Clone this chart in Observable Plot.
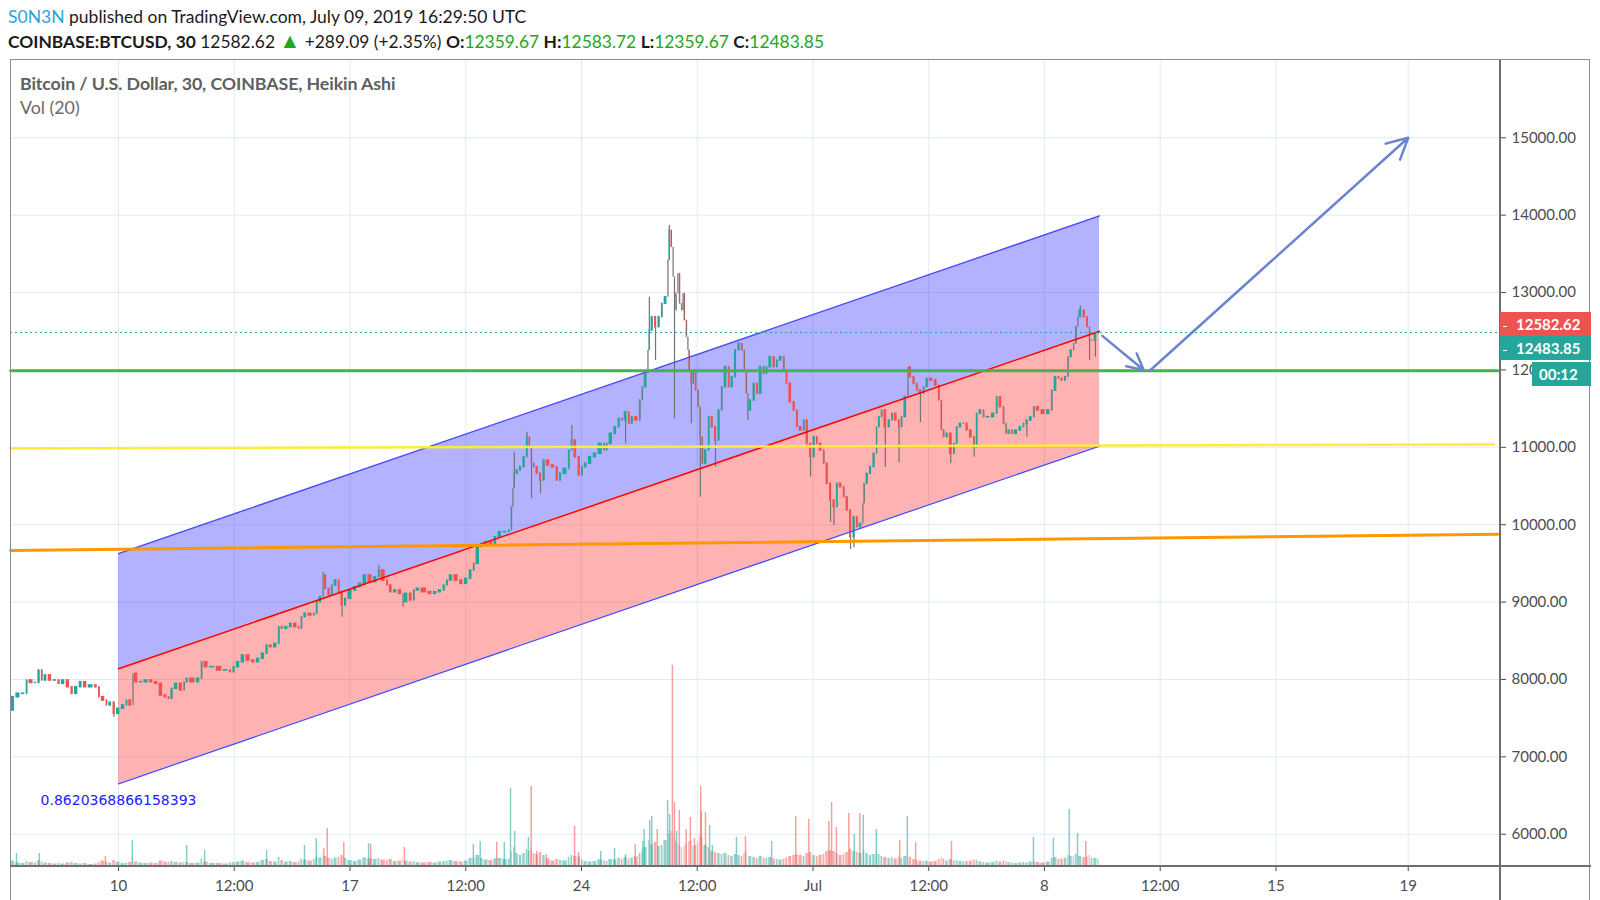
<!DOCTYPE html>
<html>
<head>
<meta charset="utf-8">
<script src="https://cdn.jsdelivr.net/npm/d3@7"></script>
<script src="https://cdn.jsdelivr.net/npm/@observablehq/plot@0.6"></script>
<style>
  html, body { margin: 0; padding: 0; background: #fff; }
  #wrap { position: relative; width: 1600px; height: 900px; overflow: hidden; font-family: Lato, "Liberation Sans", sans-serif; }
  .hdr { position: absolute; left: 8px; white-space: nowrap; font-size: 17.5px; line-height: 20px; color: #1b1b1b; }
  .g { color: #22a722; }
  .b { font-weight: 700; }
  .lbl { position: absolute; color: #fff; font-weight: 700; font-size: 15px; line-height: 24px; height: 24px; white-space: nowrap; }
  .lbl .dash { display: inline-block; width: 4px; height: 1.5px; background: #fff; vertical-align: middle; margin: 0 9px 0 3px; }
</style>
</head>
<body>
<div id="wrap">
  <div class="hdr" style="top:7px"><span style="color:#2f9fdb">S0N3N</span> published on TradingView.com, July 09, 2019 16:29:50 UTC</div>
  <div class="hdr" style="top:31px;font-size:17.4px"><span class="b">COINBASE:BTCUSD, 30</span> 12582.62 <span class="g" style="font-size:21px;line-height:18px">▲</span> +289.09 (+2.35%) <span class="b">O:</span><span class="g">12359.67</span> <span class="b">H:</span><span class="g">12583.72</span> <span class="b">L:</span><span class="g">12359.67</span> <span class="b">C:</span><span class="g">12483.85</span></div>
  <div id="chart" style="position:absolute;left:0;top:60px"></div>
  <div id="vol" style="position:absolute;left:0;top:60px;pointer-events:none"></div>
  <div style="position:absolute;left:10px;top:59px;width:1580px;height:845px;border:1.5px solid #8e8e8e;box-sizing:border-box;border-bottom:none"></div>
  <div style="position:absolute;left:1499px;top:60px;width:2px;height:840px;background:#6f6f6f"></div>
  <div style="position:absolute;left:10px;top:865px;width:1581px;height:2px;background:#6f6f6f"></div>
  <div style="position:absolute;left:20px;top:72px;font-size:17.8px;font-weight:700;color:#5f5f5f;white-space:nowrap;letter-spacing:-0.1px">Bitcoin / U.S. Dollar, 30, COINBASE, Heikin Ashi</div>
  <div style="position:absolute;left:20px;top:96px;font-size:17.8px;color:#6a6a6a;white-space:nowrap">Vol (20)</div>
  <div id="labels"></div>
</div>
<script>
// ---------------- DATA ----------------
// Heikin Ashi 30m closes (sampled), [time (2019, UTC), close, volume]
const candles = [
["06-06 17:45",7599,90],["06-06 21:00",7771,110],["06-07 01:00",7815,70],["06-07 04:30",7815,60],
["06-07 06:30",7987,100],["06-07 10:30",7955,80],["06-07 13:00",7955,70],["06-07 15:30",8116,120],
["06-07 17:30",7987,90],["06-07 20:30",8052,70],["06-08 00:00",7987,60],["06-08 03:30",7987,50],
["06-08 06:00",7944,60],["06-08 09:30",7987,50],["06-08 13:00",7900,70],["06-08 15:30",7815,80],
["06-08 19:00",7900,60],["06-08 22:00",7965,50],["06-09 01:30",7900,60],["06-09 06:00",7922,40],
["06-09 09:00",7900,50],["06-09 11:00",7771,80],["06-09 14:30",7728,110],["06-09 16:30",7664,90],
["06-09 19:30",7700,70],["06-09 22:00",7556,120],["06-10 01:30",7621,90],["06-10 05:00",7664,60],
["06-10 07:00",7728,70],["06-10 10:00",7664,80],["06-10 11:00",8073,160],["06-10 14:30",7965,90],
["06-10 18:00",7965,70],["06-10 22:00",7987,60],["06-11 01:30",7965,70],["06-11 05:00",7944,60],
["06-11 08:30",7793,110],["06-11 11:30",7770,90],["06-11 13:30",7749,80],["06-11 16:00",7879,100],
["06-11 19:30",7944,80],["06-11 23:00",7858,70],["06-12 00:30",7965,90],["06-12 03:00",8009,80],
["06-12 08:00",7965,60],["06-12 11:30",8009,70],["06-12 13:30",8223,150],["06-12 17:30",8159,90],
["06-12 22:30",8159,60],["06-13 03:30",8116,60],["06-13 08:00",8116,50],["06-13 10:30",8094,70],
["06-13 13:00",8159,80],["06-13 16:30",8223,90],["06-13 20:00",8310,110],["06-14 00:00",8245,80],
["06-14 03:30",8223,70],["06-14 07:00",8267,80],["06-14 10:30",8332,120],["06-14 13:00",8439,140],
["06-14 16:00",8418,100],["06-14 19:30",8461,90],["06-14 21:30",8676,180],["06-15 00:00",8655,120],
["06-15 03:30",8676,90],["06-15 06:30",8719,100],["06-15 10:00",8676,80],["06-15 12:00",8655,90],
["06-15 14:00",8805,150],["06-15 17:00",8849,130],["06-15 21:00",8827,110],["06-15 23:00",8849,140],
["06-16 01:00",9000,180],["06-16 04:00",9063,170],["06-16 05:00",9344,240],["06-16 07:30",9172,200],
["06-16 10:00",9085,160],["06-16 12:00",9214,150],["06-16 15:00",9279,170],["06-16 17:00",9128,180],
["06-16 19:30",8956,220],["06-16 22:00",9042,160],["06-17 02:00",9150,120],["06-17 05:30",9193,100],
["06-17 09:00",9236,130],["06-17 12:30",9344,170],["06-17 16:30",9258,150],["06-17 20:00",9322,140],
["06-17 22:00",9408,160],["06-18 02:00",9279,130],["06-18 04:00",9214,120],["06-18 07:00",9128,140],
["06-18 10:30",9150,100],["06-18 14:00",9107,110],["06-18 15:00",9000,170],["06-18 18:30",9107,110],
["06-18 21:30",9021,90],["06-18 23:30",9150,100],["06-19 03:00",9172,80],["06-19 08:00",9128,70],
["06-19 12:00",9107,80],["06-19 15:30",9128,70],["06-19 19:00",9150,90],["06-19 21:30",9214,100],
["06-19 23:30",9279,110],["06-20 03:00",9344,120],["06-20 07:00",9279,100],["06-20 10:30",9236,90],
["06-20 14:00",9300,110],["06-20 17:00",9408,160],["06-20 19:00",9494,170],["06-20 22:30",9710,220],
["06-21 01:00",9753,160],["06-21 04:30",9775,130],["06-21 08:00",9753,120],["06-21 11:00",9840,150],
["06-21 14:30",9904,160],["06-21 18:30",9904,140],["06-21 20:30",9925,150],["06-21 22:00",10227,300],
["06-21 22:30",10464,360],["06-22 00:00",10658,380],["06-22 02:30",10701,260],["06-22 05:00",10744,220],
["06-22 07:30",10873,260],["06-22 09:30",11131,340],["06-22 11:00",11000,300],["06-22 12:30",10787,360],
["06-22 14:30",10744,260],["06-22 17:00",10658,240],["06-22 19:30",10572,280],["06-22 22:00",10830,220],
["06-23 01:30",10765,150],["06-23 05:00",10743,110],["06-23 07:30",10571,140],["06-23 10:00",10658,120],
["06-23 14:00",10722,110],["06-23 16:00",10959,180],["06-23 18:00",11088,220],["06-23 21:00",10873,200],
["06-23 23:30",10636,190],["06-24 01:30",10743,140],["06-24 04:30",10787,100],["06-24 08:00",10873,90],
["06-24 11:30",10916,100],["06-24 15:30",11045,130],["06-24 17:30",10959,110],["06-24 19:30",11045,100],
["06-24 23:00",11175,140],["06-25 02:00",11260,130],["06-25 04:30",11369,160],["06-25 06:30",11347,140],
["06-25 09:30",11454,180],["06-25 11:30",11304,150],["06-25 14:00",11390,170],["06-25 17:30",11347,190],
["06-25 19:30",11605,260],["06-25 21:00",11777,320],["06-26 00:00",11950,380],["06-26 00:30",12252,460],
["06-26 02:00",12510,520],["06-26 04:30",12682,440],["06-26 07:00",12553,480],["06-26 09:30",12682,400],
["06-26 11:30",12855,420],["06-26 14:30",12940,520],["06-26 15:00",13415,600],["06-26 16:30",13802,640],
["06-26 18:00",13586,700],["06-26 19:00",13199,620],["06-26 20:00",12768,660],["06-26 21:30",12984,500],
["06-26 22:30",13242,460],["06-27 00:00",12855,420],["06-27 01:30",12768,380],["06-27 02:00",12984,360],
["06-27 03:30",12639,400],["06-27 05:00",12424,440],["06-27 05:30",12252,460],["06-27 07:00",11993,500],
["06-27 08:30",11821,520],["06-27 10:00",11993,400],["06-27 12:00",11734,420],["06-27 13:30",11519,480],
["06-27 15:00",11131,600],["06-27 16:30",10787,560],["06-27 19:30",10959,420],["06-27 21:30",11390,380],
["06-28 00:00",11260,300],["06-28 02:30",11088,280],["06-28 05:00",11476,260],["06-28 07:00",11777,240],
["06-28 10:00",12036,260],["06-28 12:00",11777,220],["06-28 14:30",11907,200],["06-28 17:00",12252,240],
["06-28 19:30",12338,220],["06-28 21:30",12252,200],["06-28 23:00",11993,260],["06-29 00:30",11692,300],
["06-29 01:00",11476,280],["06-29 04:00",11605,200],["06-29 06:30",11821,180],["06-29 08:30",11692,160],
["06-29 11:30",12036,200],["06-29 13:30",11950,170],["06-29 15:30",12036,160],["06-29 18:30",12165,180],
["06-29 21:00",12036,150],["06-29 23:00",12122,140],["06-30 02:00",12165,130],["06-30 04:00",11993,150],
["06-30 06:00",11821,170],["06-30 09:00",11583,200],["06-30 11:30",11476,220],["06-30 13:30",11260,240],
["06-30 16:30",11217,220],["06-30 18:30",11346,200],["06-30 21:00",11045,260],["06-30 23:30",10873,280],
["07-01 02:00",11131,220],["07-01 04:00",11045,200],["07-01 07:00",10959,220],["07-01 09:00",10787,240],
["07-01 11:30",10528,300],["07-01 14:00",10313,320],["07-01 16:30",10227,300],["07-01 18:30",10528,260],
["07-01 21:30",10485,220],["07-01 23:30",10356,240],["07-02 02:00",10183,280],["07-02 04:30",9840,340],
["07-02 07:00",10097,300],["07-02 09:00",9968,280],["07-02 12:00",10011,260],["07-02 12:30",10270,300],
["07-02 14:00",10528,320],["07-02 16:30",10658,260],["07-02 19:00",10744,220],["07-02 21:30",10916,240],
["07-02 23:00",11260,280],["07-03 01:00",11390,240],["07-03 03:00",11476,200],["07-03 06:00",11260,180],
["07-03 08:30",11347,160],["07-03 10:30",11433,170],["07-03 13:30",11347,150],["07-03 15:30",11260,180],
["07-03 17:30",11390,160],["07-03 20:30",11648,200],["07-03 21:30",12036,240],["07-04 00:00",11907,180],
["07-04 02:30",11821,140],["07-04 04:30",11734,120],["07-04 07:30",11692,110],["07-04 09:30",11777,100],
["07-04 12:00",11886,110],["07-04 15:30",11864,90],["07-04 18:30",11799,100],["07-04 20:30",11605,140],
["07-04 22:00",11217,180],["07-05 00:00",11131,150],["07-05 02:30",11175,110],["07-05 05:30",10916,140],
["07-05 07:30",11045,110],["07-05 09:30",11260,120],["07-05 12:30",11304,100],["07-05 14:30",11304,90],
["07-05 17:00",11217,100],["07-05 20:00",11131,110],["07-05 22:00",11002,130],["07-06 00:00",11433,120],
["07-06 03:00",11476,90],["07-06 05:00",11390,80],["07-06 09:00",11390,70],["07-06 12:30",11433,80],
["07-06 14:30",11648,110],["07-06 17:30",11519,90],["07-06 19:30",11304,110],["07-06 21:00",11175,100],
["07-06 23:30",11217,80],["07-07 01:30",11175,70],["07-07 05:00",11217,60],["07-07 08:00",11260,70],
["07-07 10:00",11304,80],["07-07 12:30",11346,70],["07-07 15:30",11390,90],["07-07 17:30",11519,100],
["07-07 21:00",11476,80],["07-08 01:00",11433,70],["07-08 04:30",11476,90],["07-08 06:30",11734,160],
["07-08 09:30",11907,180],["07-08 11:30",11886,140],["07-08 14:00",11864,150],["07-08 16:30",11907,170],
["07-08 18:00",12165,220],["07-08 20:30",12252,200],["07-08 22:00",12338,190],["07-09 00:00",12553,240],
["07-09 00:30",12682,220],["07-09 03:30",12768,200],["07-09 06:00",12682,180],["07-09 08:00",12553,190],
["07-09 09:30",12381,220],["07-09 11:30",12381,170],["07-09 14:30",12467,160],["07-09 16:00",12483.85,140]
];
// long wicks: [time, low]  and [time, high]
const wickLows = [
["06-09 22:00",7513],["06-16 19:30",8805],["06-18 15:00",8935],["06-22 12:30",10335],["06-22 19:30",10399],
["06-25 09:30",11045],["06-26 07:00",12122],["06-26 20:00",11369],["06-27 08:30",11304],["06-27 15:00",10355],
["06-28 02:30",10743],["06-29 01:00",11347],["06-30 23:30",10614],["07-01 14:00",10030],["07-01 16:30",9990],
["07-02 04:30",9680],["07-02 07:00",9700],["07-03 06:00",10740],["07-03 15:30",10800],["07-04 07:30",11320],
["07-05 05:30",10787],["07-05 22:00",10873],["07-07 12:30",11130],["07-09 09:30",12122],["07-09 14:30",12165]
];
const wickHighs = [
["06-16 05:00",9387],["06-17 22:00",9473],["06-22 00:00",10938],["06-22 09:30",11196],["06-23 18:00",11282],
["06-26 02:00",12940],["06-26 16:30",13867],["07-09 03:30",12833]
];
// volume spikes: [time, volume, direction]
const volumeSpikes = [
["06-06 22:00",260,"u"],["06-07 14:30",260,"u"],["06-09 14:30",200,"d"],["06-10 10:00",520,"u"],
["06-12 01:30",420,"u"],["06-12 14:30",320,"u"],["06-14 11:30",320,"u"],["06-15 15:00",420,"u"],
["06-15 23:30",560,"u"],["06-16 05:00",360,"d"],["06-16 07:30",760,"d"],["06-16 19:30",480,"d"],
["06-17 13:30",460,"u"],["06-17 15:00",440,"d"],["06-18 15:30",380,"d"],["06-20 17:30",440,"u"],
["06-20 22:30",500,"u"],["06-21 10:30",480,"d"],["06-21 16:00",480,"u"],["06-21 20:30",1560,"u"],
["06-21 23:30",700,"u"],["06-22 09:30",580,"u"],["06-22 11:30",1600,"d"],["06-22 15:30",300,"d"],
["06-22 22:30",240,"d"],["06-23 19:00",800,"d"],["06-23 22:00",280,"d"],["06-24 14:00",300,"u"],
["06-25 00:00",360,"u"],["06-25 08:00",240,"u"],["06-25 15:00",440,"d"],["06-25 20:30",500,"u"],
["06-25 21:30",740,"u"],["06-26 01:30",920,"u"],["06-26 03:00",1000,"u"],["06-26 07:00",740,"d"],
["06-26 14:30",1320,"u"],["06-26 16:00",1040,"u"],["06-26 18:00",4020,"d"],["06-26 19:30",1280,"d"],
["06-26 21:00",700,"u"],["06-26 23:00",1120,"d"],["06-27 04:00",740,"d"],["06-27 07:00",980,"d"],
["06-27 10:00",560,"d"],["06-27 14:30",1600,"d"],["06-27 15:00",1100,"d"],["06-27 18:00",1080,"d"],
["06-27 21:00",820,"u"],["06-27 23:00",420,"u"],["06-28 16:30",580,"u"],["06-28 23:00",600,"d"],
["06-29 18:00",500,"u"],["06-30 11:30",1000,"d"],["06-30 21:00",940,"d"],["07-01 11:30",900,"d"],
["07-01 13:30",1280,"d"],["07-01 17:00",780,"d"],["07-02 02:00",1060,"d"],["07-02 06:00",640,"u"],
["07-02 10:00",1060,"d"],["07-02 12:30",1020,"u"],["07-02 22:00",740,"u"],["07-03 15:00",520,"d"],
["07-03 20:30",1000,"u"],["07-04 02:30",480,"d"],["07-05 04:30",500,"d"],["07-07 16:00",580,"u"],
["07-08 06:30",560,"u"],["07-08 18:00",1140,"u"],["07-09 00:00",660,"u"],["07-09 06:00",500,"d"]
];
// regression trend channel (start, end)
const regTimes = ["06-10 00:00", "07-09 16:00"];
const regUpper = [9626, 13990];
const regMid   = [8138, 12501];
const regLower = [6652, 11017];
const pearsonR = "0.8620368866158393";
// drawn lines [time, price]
const greenLine  = [["06-06 17:40", 11990], ["07-21 17:00", 11990]];
const yellowLine = [["06-06 17:40", 10985], ["07-21 14:00", 11038]];
const orangeLine = [["06-06 17:40", 9667],  ["07-21 17:00", 9877]];
const lastClose = 12483.85;
const lastPrice = 12582.62;
const countdown = "00:12";
// arrows [fromTime, fromPrice, toTime, toPrice]
const arrows = [["07-09 18:00", 12440, "07-11 00:00", 12000], ["07-11 05:00", 12000, "07-19 00:00", 15000]];
// axes
const xTickTimes  = ["06-10 00:00","06-13 12:00","06-17 00:00","06-20 12:00","06-24 00:00","06-27 12:00","07-01 00:00","07-04 12:00","07-08 00:00","07-11 12:00","07-15 00:00","07-19 00:00"];
const xTickLabels = ["10","12:00","17","12:00","24","12:00","Jul","12:00","8","12:00","15","19"];
const yTicks = [6000,7000,8000,9000,10000,11000,12000,13000,14000,15000];
const xDomain = ["06-06 17:37", "07-21 18:58"];
const yDomain = [5583, 15999];
const volDomain = [0, 16100];

// ---------------- BUILD ----------------
const parse = s => d3.utcParse("%Y-%m-%d %H:%M")("2019-" + s);
const lowMap = new Map(wickLows), highMap = new Map(wickHighs);
const rows = candles.map(([k, c, v]) => ({k, t: parse(k), c, v}));
const bars = rows.slice(1).map((r, i) => {
  const p = rows[i];
  const o = p.c;
  let lo = Math.min(o, r.c), hi = Math.max(o, r.c);
  if (lowMap.has(r.k)) lo = Math.min(lo, lowMap.get(r.k));
  if (highMap.has(r.k)) hi = Math.max(hi, highMap.get(r.k));
  return {t1: p.t, t2: r.t, tm: new Date((+p.t + +r.t) / 2), o, c: r.c, lo, hi, up: r.c >= o, v: r.v};
});
const reg = regTimes.map((s, i) => ({t: parse(s), up: regUpper[i], mid: regMid[i], lo: regLower[i]}));
const pts = a => a.map(([s, p]) => ({t: parse(s), p}));
const arrowData = arrows.map(([a, b, c, d]) => ({t1: parse(a), p1: b, t2: parse(c), p2: d}));
const xTicks = xTickTimes.map(parse);
const labelMap = new Map(xTicks.map((d, i) => [+d, xTickLabels[i]]));
const xd = xDomain.map(parse);

const UP = "#26a69a", DN = "#ef5350", GRID = "#e1ecf2";

const chart = Plot.plot({
  width: 1600, height: 840,
  marginLeft: 10, marginRight: 100, marginTop: 0, marginBottom: 34,
  x: {type: "utc", domain: xd},
  y: {domain: yDomain},
  style: {background: "transparent", fontFamily: "Lato, 'Liberation Sans', sans-serif", overflow: "visible"},
  marks: [
    Plot.gridX(xTicks, {stroke: GRID, strokeOpacity: 1, strokeWidth: 1}),
    Plot.gridY(yTicks, {stroke: GRID, strokeOpacity: 1, strokeWidth: 1}),
    Plot.areaY(reg, {x: "t", y1: "mid", y2: "up", fill: "#0000ff", fillOpacity: 0.3}),
    Plot.areaY(reg, {x: "t", y1: "lo", y2: "mid", fill: "#ff0000", fillOpacity: 0.3}),
    Plot.ruleX(bars, {x: "tm", y1: "lo", y2: "hi", stroke: "#737375", strokeWidth: 1.2}),
    Plot.rect(bars.filter(d => d.up), {x1: "t1", x2: "t2", y1: "o", y2: "c", fill: UP, insetLeft: 0.7, insetRight: 0.7, insetTop: -0.8, insetBottom: -0.8}),
    Plot.rect(bars.filter(d => !d.up), {x1: "t1", x2: "t2", y1: "o", y2: "c", fill: DN, insetLeft: 0.7, insetRight: 0.7, insetTop: -0.8, insetBottom: -0.8}),
    Plot.line(reg, {x: "t", y: "up", stroke: "#4a4aff", strokeWidth: 1.3}),
    Plot.line(reg, {x: "t", y: "lo", stroke: "#4a4aff", strokeWidth: 1.3}),
    Plot.line(reg, {x: "t", y: "mid", stroke: "#ff0000", strokeWidth: 1.5}),
    Plot.line(pts(orangeLine), {x: "t", y: "p", stroke: "#ff9800", strokeWidth: 3}),
    Plot.line(pts(yellowLine), {x: "t", y: "p", stroke: "#ffeb3b", strokeWidth: 2.5}),
    Plot.line(pts(greenLine), {x: "t", y: "p", stroke: "#4caf50", strokeWidth: 3}),
    Plot.ruleY([lastClose], {stroke: UP, strokeWidth: 1, strokeDasharray: "2,3"}),
    Plot.arrow(arrowData, {x1: "t1", y1: "p1", x2: "t2", y2: "p2", stroke: "#6c84cf", strokeWidth: 2.5, headLength: 14, headAngle: 55}),
    Plot.text(reg.slice(0, 1), {x: "t", y: "lo", text: () => pearsonR, dy: 17, fill: "#2222ff", fontSize: 14, fontFamily: "'DejaVu Sans', sans-serif"}),
    Plot.axisY(yTicks, {anchor: "right", tickFormat: d => d.toFixed(2), tickSize: 5, tickPadding: 6, fontSize: 15, color: "#4d4d4d", label: null}),
    Plot.axisX(xTicks, {anchor: "bottom", tickFormat: d => labelMap.get(+d), tickSize: 5, tickPadding: 9, fontSize: 15, color: "#4d4d4d", label: null})
  ]
});
document.getElementById("chart").appendChild(chart);

const spikes = volumeSpikes.map(([s, v, d]) => ({t: parse(s), v, up: d === "u"}));
const vol = Plot.plot({
  width: 1600, height: 840,
  marginLeft: 10, marginRight: 100, marginTop: 0, marginBottom: 34,
  x: {type: "utc", domain: xd, axis: null},
  y: {domain: volDomain, axis: null},
  style: {background: "transparent"},
  marks: [
    Plot.rectY(bars.filter(d => d.up), {x1: "t1", x2: "t2", y: "v", fill: UP, fillOpacity: 0.5, insetLeft: 0.5, insetRight: 0.5}),
    Plot.rectY(bars.filter(d => !d.up), {x1: "t1", x2: "t2", y: "v", fill: DN, fillOpacity: 0.5, insetLeft: 0.5, insetRight: 0.5}),
    Plot.ruleX(spikes.filter(d => d.up), {x: "t", y1: 0, y2: "v", stroke: UP, strokeOpacity: 0.55, strokeWidth: 1.5}),
    Plot.ruleX(spikes.filter(d => !d.up), {x: "t", y1: 0, y2: "v", stroke: DN, strokeOpacity: 0.55, strokeWidth: 1.5})
  ]
});
document.getElementById("vol").appendChild(vol);

// price labels on the axis
const yPix = 60 + chart.scale("y").apply(lastPrice);
const L = document.getElementById("labels");
function box(left, top, width, bg, text, dash) {
  const d = document.createElement("div");
  d.className = "lbl";
  d.style.left = left + "px"; d.style.top = top + "px"; d.style.width = width + "px"; d.style.background = bg;
  d.innerHTML = (dash ? '<span class="dash"></span>' : '<span style="display:inline-block;width:7px"></span>') + text;
  L.appendChild(d);
}
box(1500, yPix - 12, 91, DN, lastPrice.toFixed(2), true);
box(1500, yPix + 12, 91, UP, lastClose.toFixed(2), true);
box(1532, yPix + 38, 59, UP, countdown, false);
</script>
</body>
</html>
